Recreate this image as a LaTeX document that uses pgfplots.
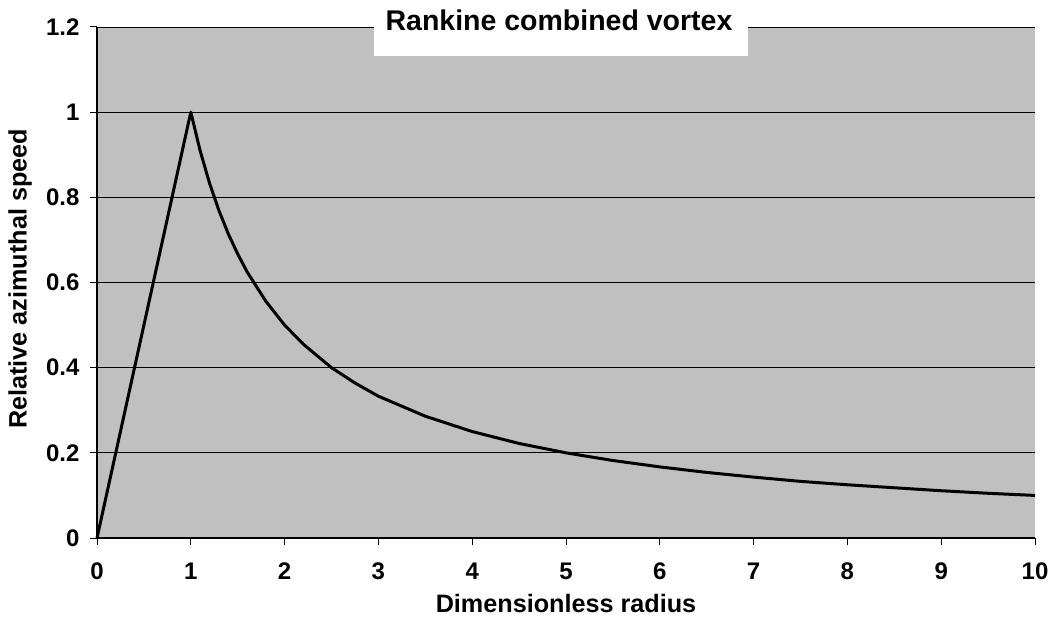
\documentclass[border=0pt]{standalone}
\usepackage{pgfplots}
\pgfplotsset{compat=1.18}
\usepackage{fontspec}
\setmainfont{Liberation Sans}
\definecolor{bggray}{HTML}{C0C0C0}
\begin{document}
\begin{tikzpicture}[x=1pt,y=1pt]
\path[use as bounding box] (0,0) rectangle (1056,625);
\begin{axis}[
  at={(97pt,87pt)}, anchor=south west,
  width=938pt, height=511pt, scale only axis,
  xmin=0, xmax=10, ymin=0, ymax=1.2,
  xtick={0,1,...,10}, ytick={0,0.2,0.4,0.6,0.8,1,1.2},
  axis lines*=left,
  axis line style={-, line width=1.3pt, black},
  axis background/.style={fill=bggray},
  ymajorgrids, grid style={black, line width=0.9pt},
  tick align=outside, major tick length=7pt,
  tick style={black, line width=1pt},
  /pgf/number format/assume math mode=true,
  ticklabel style={font=\fontsize{24}{27}\selectfont\bfseries},
  xticklabel style={yshift=-14pt},
  yticklabel style={xshift=-7pt},
  xlabel={Dimensionless radius},
  ylabel={Relative azimuthal speed},
  label style={font=\fontsize{25.2}{28}\selectfont\bfseries},
  xlabel style={at={(axis description cs:0.5,-0.128)}, anchor=center},
  ylabel style={at={(axis description cs:-0.082,0.507)}, anchor=center},
  clip=false,
]
\addplot[black, line width=3pt, line join=round] coordinates {
(0,0) (1,1) (1.1,0.909) (1.2,0.833) (1.3,0.769) (1.4,0.714) (1.5,0.667)
(1.6,0.625) (1.8,0.556) (2,0.5) (2.2,0.455) (2.5,0.4) (2.75,0.364) (3,0.333)
(3.5,0.286) (4,0.25) (4.5,0.222) (5,0.2) (5.5,0.182) (6,0.167) (6.5,0.154)
(7,0.143) (7.5,0.133) (8,0.125) (8.5,0.118) (9,0.111) (9.5,0.105) (10,0.1)
};
\end{axis}
\fill[white] (374,569) rectangle (748,625);
\node[font=\fontsize{28.5}{31}\selectfont\bfseries, anchor=base] at (559,594) {Rankine combined vortex};
\end{tikzpicture}
\end{document}
